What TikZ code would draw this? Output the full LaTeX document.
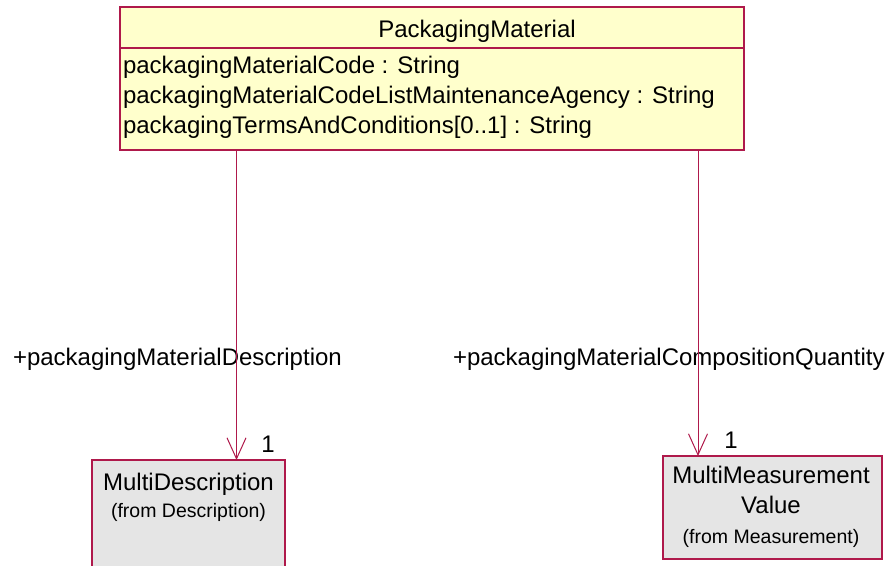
\documentclass[tikz,border=0pt]{standalone}
\usepackage{fontspec}
\setmainfont{Liberation Sans}
\usetikzlibrary{positioning, arrows.meta}
\definecolor{umlred}{RGB}{175,25,75}
\definecolor{umlyellow}{RGB}{255,255,204}
\definecolor{umlgrey}{RGB}{229,229,229}

\begin{document}
\begin{tikzpicture}[x=1pt,y=-1pt,>={Straight Barb[length=21pt,width=19pt]},font=\fontsize{24}{30}\selectfont]
\tikzstyle{every node}=[inner sep=0pt,outer sep=0pt]
\tikzstyle{classbox}=[draw=umlred,fill=umlyellow,line width=1.2pt]
\tikzstyle{refbox}=[draw=umlred,fill=umlgrey,line width=1.2pt]
\tikzstyle{assoc}=[->,draw=umlred,line width=1pt]
\tikzstyle{small}=[font=\fontsize{19.5}{24}\selectfont]
\useasboundingbox (0,0) rectangle (894,565);

% boxes
\node[classbox,minimum width=624pt,minimum height=143pt] (PM) at (432,78.5) {};
\node[refbox,minimum width=193pt,minimum height=120pt] (MD) at (188.5,520) {};
\node[refbox,minimum width=219pt,minimum height=103pt] (MMV) at (772.5,507.5) {};
\draw[umlred,line width=1.2pt] (PM.west |- 0,48) -- (PM.east |- 0,48);

% texts
\node[anchor=base] (title) at (477,37) {PackagingMaterial};
\node[anchor=base west] (attr1) at (123,73) {packagingMaterialCode : String};
\node[anchor=base west] (attr2) at (123,103) {packagingMaterialCodeListMaintenanceAgency : String};
\node[anchor=base west] (attr3) at (123,133) {packagingTermsAndConditions[0..1] : String};

\node[anchor=base] (mdname) at (188.5,490) {MultiDescription};
\node[anchor=base,small] (mdfrom) at (188.5,517) {(from Description)};
\node[anchor=base] (mmvname) at (771,483) {MultiMeasurement};
\node[anchor=base] (mmvname2) at (771,513) {Value};
\node[anchor=base,small] (mmvfrom) at (771,543) {(from Measurement)};

\node[anchor=base west] (role1) at (13,365) {+packagingMaterialDescription};
\node[anchor=base west] (role2) at (453,365) {+packagingMaterialCompositionQuantity};
\node[anchor=base] (mult1) at (268,452) {1};
\node[anchor=base] (mult2) at (731,448) {1};

% associations
\coordinate (a1) at (236.5,0);
\coordinate (a2) at (698,0);
\draw[assoc] (PM.south -| a1) -- (MD.north -| a1);
\draw[assoc] (PM.south -| a2) -- (MMV.north -| a2);
\end{tikzpicture}
\end{document}
